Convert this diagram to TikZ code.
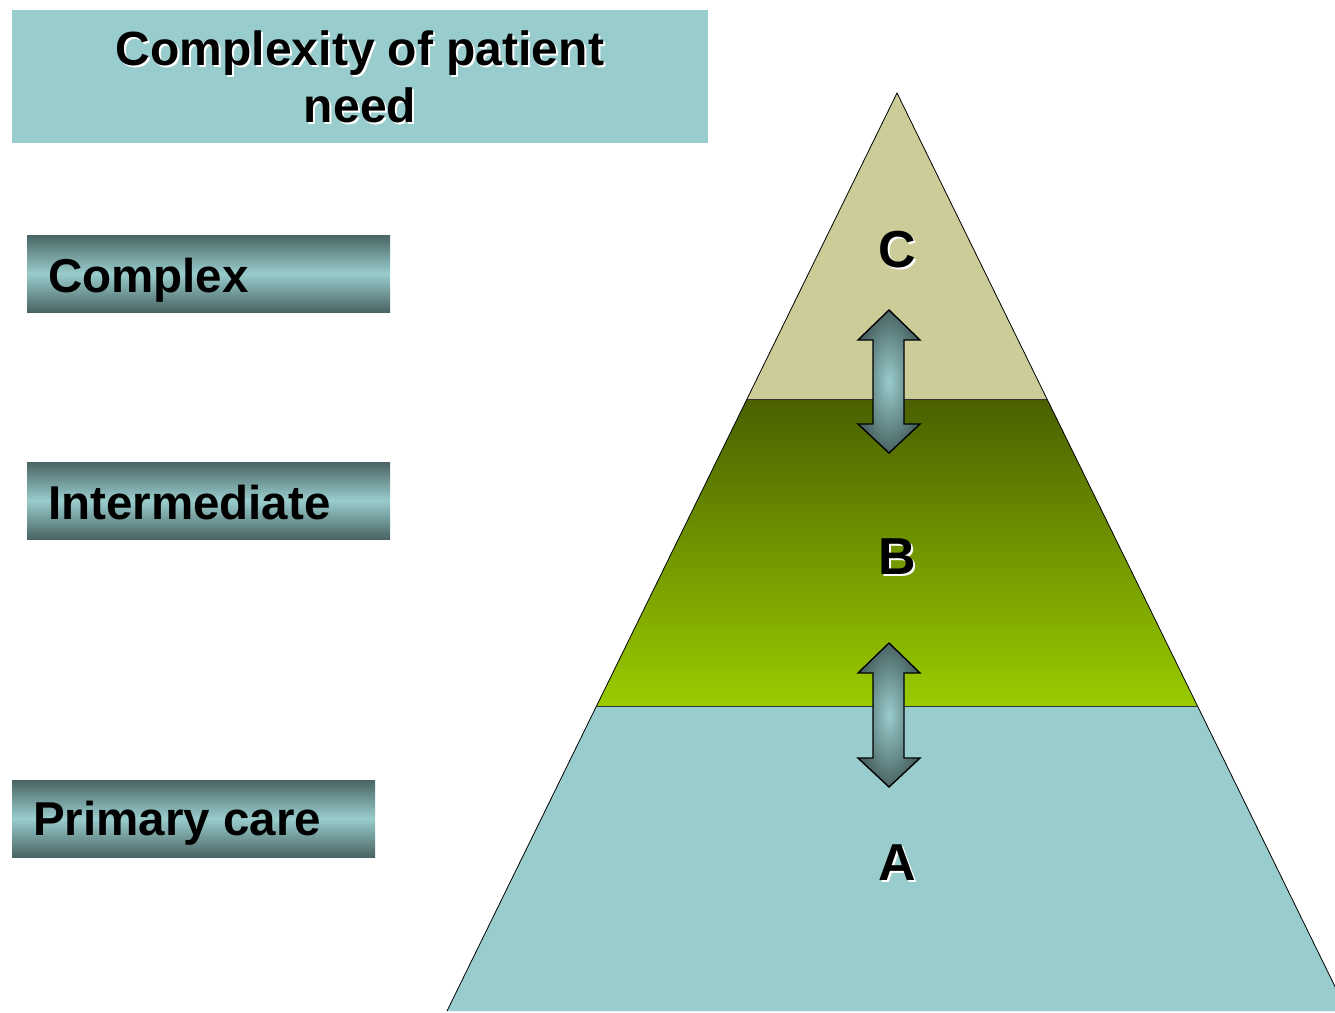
\documentclass[tikz,border=0pt]{standalone}
\usepackage{fontspec}
\setmainfont{Liberation Sans}
\definecolor{teal}{HTML}{99CCCC}
\definecolor{darkteal}{HTML}{4A6464}
\definecolor{khaki}{HTML}{CCCC99}
\definecolor{olivetop}{HTML}{4A6000}
\definecolor{limebot}{HTML}{99CC00}
\begin{document}
\begin{tikzpicture}[x=1pt,y=-1pt,
  bigtext/.style={font=\fontsize{48}{57}\selectfont\bfseries, inner sep=0pt},
  lettertext/.style={font=\fontsize{52}{57}\selectfont\bfseries, inner sep=0pt},
  labeltext/.style={font=\fontsize{47.5}{55}\selectfont\bfseries, inner sep=0pt, anchor=base west},
  labelbox/.style={top color=darkteal, bottom color=darkteal, middle color=teal, draw=none},
  band/.style={draw=black!80, line width=0.8pt},
  dblarrow/.style={draw=black, line width=1.4pt, line join=miter, inner color=teal, outer color=darkteal},
]
\useasboundingbox (0,0) rectangle (1335,1012);
\clip (0,0) rectangle (1335,1012);
\fill[white] (0,0) rectangle (1335,1012);

% title
\fill[teal] (12,10) rectangle (708,143);
\node[bigtext, white, anchor=base, align=center] (titleshadow) at (362,67) {Complexity of patient};
\node[bigtext, anchor=base] (title1) at (360,65) {Complexity of patient};
\node[bigtext, white, anchor=base] (title2shadow) at (362,124) {need};
\node[bigtext, anchor=base] (title2) at (360,122) {need};

% label boxes
\fill[labelbox] (27,235) rectangle (390,312);
\node[labeltext] (complex) at (48,292) {Complex};
\fill[labelbox] (27,462) rectangle (390,539);
\node[labeltext] (intermediate) at (48,519) {Intermediate};
\fill[labelbox] (12,780) rectangle (375,857);
\node[labeltext] (primary) at (33,835) {Primary care};

% pyramid
\coordinate (apex) at (897,93);
\coordinate (cl) at (747,399);
\coordinate (cr) at (1047,399);
\coordinate (bl) at (596.6,706);
\coordinate (br) at (1197.4,706);
\coordinate (al) at (447,1011);
\coordinate (ar) at (1347,1011);
\fill[teal] (bl) -- (br) -- (ar) -- (al) -- cycle;
\shade[top color=olivetop, bottom color=limebot] (cl) -- (cr) -- (br) -- (bl) -- cycle;
\fill[khaki] (apex) -- (cr) -- (cl) -- cycle;
\draw[black, line width=0.8pt] (al) -- (apex) -- (ar);
\draw[band] (cl) -- (cr);
\draw[band] (bl) -- (br);

% letters
\foreach \n/\t/\yy in {lc/C/267, lb/B/574, la/A/880}{
  \node[lettertext, white, anchor=base] at (899,\yy+2) {\t};
  \node[lettertext, anchor=base] (\n) at (897,\yy) {\t};
}

% arrows
\shade[dblarrow] (889,310) -- (920,340) -- (904,340) -- (904,424) -- (920,424) -- (889,453)
  -- (858,424) -- (873,424) -- (873,340) -- (858,340) -- cycle;
\shade[dblarrow] (889,643) -- (920,673) -- (904,673) -- (904,758) -- (920,758) -- (889,787)
  -- (858,758) -- (873,758) -- (873,673) -- (858,673) -- cycle;
\end{tikzpicture}
\end{document}
